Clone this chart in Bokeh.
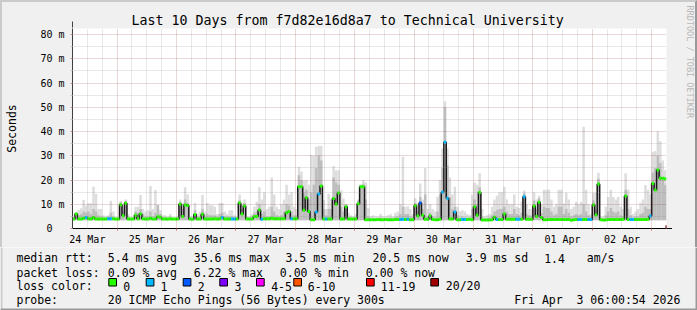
import math
from bokeh.plotting import figure
from bokeh.layouts import column
from bokeh.models import (FixedTicker, Grid, Arrow, NormalHead, ColumnDataSource, Title)
from bokeh.core.properties import value
from bokeh.embed import file_html
from bokeh.resources import INLINE

# ---------------- data (1 value per hour, starting 24 Mar 06:00) ----------------
hours = list(range(240))

median_ms = [
    3.9, 6.0, 3.9, 3.9, 4.2, 4.5, 4.0, 3.9, 4.5, 3.9, 3.9, 3.9, 3.9, 3.9, 4.0, 4.0, 4.0, 3.9, 3.9, 9.8, 5.3, 10.4, 3.9, 3.9,
    3.9, 5.5, 4.0, 6.0, 4.0, 3.9, 3.9, 4.2, 3.9, 3.9, 4.8, 4.6, 3.9, 3.9, 3.9, 4.0, 3.9, 3.9, 3.9, 10.0, 5.0, 9.7, 9.5, 3.9,
    3.8, 5.8, 3.9, 3.9, 5.9, 3.9, 3.9, 3.9, 3.9, 4.0, 3.9, 4.0, 4.5, 3.9, 3.9, 3.9, 3.9, 3.9, 3.9, 10.5, 6.0, 9.3, 3.9, 3.9,
    3.9, 5.0, 5.0, 7.6, 3.8, 4.0, 4.0, 4.0, 4.2, 4.0, 4.0, 4.0, 4.0, 4.0, 6.5, 7.0, 4.0, 4.0, 4.0, 17.2, 17.2, 7.5, 12.7, 7.0,
    3.6, 3.6, 6.8, 14.2, 17.5, 3.9, 3.9, 3.9, 3.9, 12.4, 10.0, 14.6, 3.9, 3.9, 9.0, 3.9, 3.9, 3.9, 3.9, 10.2, 17.2, 17.2, 3.6, 3.6,
    3.6, 3.6, 3.6, 3.7, 3.6, 3.6, 3.7, 3.6, 3.6, 3.6, 3.7, 3.7, 3.7, 3.8, 3.7, 3.8, 3.6, 3.6, 9.4, 5.2, 10.5, 5.5, 3.8, 3.8,
    5.2, 3.7, 3.6, 3.6, 3.8, 14.9, 35.6, 12.5, 3.9, 3.9, 6.8, 3.6, 3.6, 3.7, 3.7, 3.7, 3.8, 3.6, 9.0, 5.5, 14.8, 3.5, 3.5, 3.5,
    3.5, 3.6, 4.6, 3.7, 3.7, 3.7, 6.0, 3.8, 3.8, 3.8, 3.8, 3.8, 3.8, 3.8, 13.1, 3.8, 3.8, 3.8, 9.3, 5.0, 10.8, 4.5, 3.6, 3.6,
    3.7, 3.7, 3.7, 3.7, 3.7, 3.7, 3.7, 3.7, 3.7, 3.4, 3.6, 3.7, 3.7, 3.7, 3.7, 3.7, 3.7, 3.7, 9.7, 5.6, 18.3, 3.6, 3.5, 3.5,
    3.7, 3.7, 3.7, 3.7, 3.7, 3.7, 3.8, 13.4, 3.7, 3.7, 3.7, 3.7, 3.7, 3.7, 3.7, 3.7, 3.8, 5.2, 18.6, 15.9, 24.1, 20.7, 20.7, 20.5,
]

smoke_mid_ms = [
    4.5, 6.5, 5.5, 6.0, 7.0, 6.5, 7.0, 6.0, 8.0, 7.0, 5.5, 5.0, 4.5, 4.5, 5.0, 6.5, 5.0, 4.3, 4.3, 10.8, 7.5, 11.2, 5.0, 4.3,
    4.3, 7.0, 6.5, 8.0, 6.0, 5.0, 5.0, 7.0, 5.0, 6.5, 9.7, 6.0, 4.5, 4.5, 4.3, 4.8, 4.3, 4.3, 4.5, 11.0, 8.0, 12.0, 10.5, 4.5,
    4.3, 7.5, 5.0, 5.0, 8.0, 5.0, 6.0, 5.5, 5.5, 5.5, 5.0, 6.0, 6.5, 5.0, 5.0, 5.0, 5.0, 4.5, 4.5, 11.5, 8.0, 10.5, 4.5, 4.5,
    4.5, 6.5, 7.0, 10.0, 6.0, 7.0, 5.0, 5.0, 9.0, 7.0, 5.5, 5.0, 5.5, 7.0, 10.0, 9.5, 7.0, 5.5, 5.5, 22.0, 20.0, 15.0, 16.0, 12.0,
    15.0, 18.0, 25.0, 30.0, 28.0, 8.0, 5.5, 8.0, 8.0, 21.0, 19.0, 18.0, 9.0, 7.0, 10.0, 5.0, 4.5, 4.3, 4.5, 11.5, 18.0, 18.5, 12.0, 5.0,
    4.2, 4.3, 4.2, 4.2, 4.5, 4.2, 4.2, 4.3, 4.5, 4.2, 4.8, 5.0, 6.0, 9.0, 6.0, 6.0, 5.0, 4.5, 10.5, 7.0, 13.0, 8.0, 14.0, 5.0,
    6.5, 5.0, 4.5, 7.0, 14.0, 25.0, 50.0, 26.0, 13.0, 8.0, 9.0, 5.5, 4.5, 5.0, 4.5, 4.5, 4.3, 8.0, 12.0, 10.0, 17.0, 5.0, 4.2, 4.2,
    4.5, 5.5, 7.0, 7.5, 8.0, 8.0, 9.0, 7.0, 6.0, 6.0, 8.0, 6.0, 5.5, 6.5, 14.5, 6.0, 5.5, 5.5, 11.5, 8.0, 12.5, 6.5, 9.0, 8.5,
    8.5, 7.0, 5.5, 6.0, 9.0, 9.0, 6.0, 8.0, 6.5, 5.0, 5.5, 6.0, 5.5, 6.0, 10.0, 7.0, 5.5, 4.5, 11.5, 8.0, 20.5, 4.3, 4.2, 5.5,
    7.0, 8.5, 7.0, 6.5, 7.0, 5.5, 5.0, 16.0, 8.0, 5.5, 4.5, 5.0, 5.0, 6.0, 6.5, 9.0, 8.0, 8.0, 23.0, 25.0, 30.0, 27.0, 21.0, 18.0,
]

smoke_max_ms = [
    5.0, 6.8, 7.6, 8.3, 11.8, 9.5, 10.4, 10.4, 17.2, 14.3, 8.0, 8.0, 5.5, 5.0, 5.5, 11.4, 7.0, 4.5, 4.5, 11.3, 9.0, 12.0, 6.0, 4.5,
    4.5, 8.9, 9.0, 13.8, 8.0, 7.0, 7.5, 17.5, 8.0, 15.9, 9.0, 7.5, 5.5, 5.5, 5.0, 6.0, 4.5, 4.5, 5.0, 12.0, 10.5, 17.0, 14.0, 5.0,
    5.0, 10.5, 6.0, 7.0, 13.8, 7.0, 10.5, 9.6, 9.6, 9.0, 6.0, 10.5, 10.5, 7.0, 6.0, 7.5, 7.5, 5.5, 5.0, 14.0, 10.0, 12.0, 5.0, 5.0,
    6.0, 9.0, 11.0, 17.0, 12.0, 15.0, 8.0, 9.0, 21.0, 14.0, 9.0, 8.0, 10.0, 12.0, 18.0, 14.0, 15.0, 9.0, 8.0, 25.5, 23.5, 19.7, 20.0, 18.0,
    30.3, 30.0, 33.7, 34.0, 34.0, 11.8, 8.0, 14.2, 12.0, 25.8, 24.0, 24.0, 15.8, 12.4, 10.0, 6.5, 5.5, 5.0, 6.0, 12.0, 18.0, 20.0, 19.0, 8.4,
    5.0, 5.5, 5.0, 5.0, 6.0, 5.0, 5.0, 5.5, 6.0, 5.0, 6.5, 7.0, 10.0, 29.6, 9.0, 9.2, 8.0, 6.0, 12.5, 10.0, 18.6, 12.0, 25.0, 8.0,
    10.0, 8.0, 7.0, 13.0, 20.0, 33.0, 52.5, 33.0, 21.0, 14.0, 17.2, 9.0, 7.0, 7.5, 7.0, 6.0, 5.5, 14.0, 19.0, 18.0, 22.8, 8.0, 5.0, 5.5,
    6.0, 9.0, 12.0, 13.5, 15.0, 15.0, 17.2, 12.0, 10.0, 10.0, 14.0, 9.0, 8.5, 11.0, 15.7, 10.0, 8.0, 8.0, 15.0, 12.0, 13.5, 10.0, 16.0, 16.0,
    16.0, 12.0, 9.0, 10.0, 16.0, 16.0, 10.3, 14.7, 12.0, 8.0, 9.0, 11.0, 10.0, 11.0, 42.0, 16.0, 10.0, 6.0, 14.7, 15.0, 23.0, 5.0, 5.0, 9.0,
    13.0, 16.0, 13.0, 12.0, 13.0, 9.0, 8.0, 22.8, 16.0, 9.0, 6.0, 7.0, 8.0, 10.6, 12.0, 17.9, 16.0, 14.0, 31.4, 32.0, 40.0, 36.0, 28.0, 24.0,
]

# lost pings per hour (of 20)
loss_count = [
    0, 0, 0, 0, 0, 1, 0, 0, 0, 0, 0, 0, 0, 0, 1, 1, 0, 0, 0, 0, 0, 0, 0, 0,
    0, 0, 0, 0, 0, 0, 0, 0, 0, 0, 0, 0, 0, 0, 0, 0, 0, 0, 0, 0, 0, 0, 0, 0,
    0, 0, 0, 0, 0, 0, 0, 0, 0, 0, 0, 0, 1, 0, 0, 0, 1, 1, 0, 0, 0, 0, 0, 0,
    0, 0, 0, 0, 1, 0, 0, 0, 0, 0, 0, 0, 0, 0, 0, 0, 1, 0, 0, 0, 0, 0, 0, 0,
    0, 0, 1, 1, 0, 0, 1, 0, 0, 0, 0, 0, 0, 0, 0, 0, 0, 0, 0, 0, 0, 0, 0, 0,
    0, 0, 0, 0, 0, 0, 0, 0, 0, 0, 0, 0, 1, 1, 0, 1, 0, 0, 0, 0, 2, 0, 0, 0,
    0, 0, 0, 0, 0, 1, 1, 1, 0, 0, 1, 0, 0, 1, 1, 0, 0, 0, 0, 0, 0, 0, 0, 0,
    0, 0, 0, 1, 0, 0, 0, 0, 0, 0, 0, 1, 1, 0, 1, 0, 0, 0, 0, 0, 0, 0, 0, 0,
    0, 0, 0, 0, 0, 0, 0, 0, 0, 0, 0, 0, 1, 1, 0, 0, 1, 1, 0, 0, 0, 0, 0, 0,
    0, 0, 0, 0, 0, 0, 0, 0, 0, 1, 1, 0, 0, 0, 0, 0, 0, 1, 0, 0, 0, 0, 0, 0,
]
smoke_floor_ms = 3.4

day_labels = ["24 Mar", "25 Mar", "26 Mar", "27 Mar", "28 Mar",
              "29 Mar", "30 Mar", "31 Mar", "01 Apr", "02 Apr"]
label_hours = [6, 30, 54, 78, 102, 126, 150, 174, 198, 222]
midnight_hours = [18, 42, 66, 90, 114, 138, 162, 186, 210, 234]
six_hour_marks = [6, 12, 24, 30, 36, 48, 54, 60, 72, 78, 84, 96, 102, 108, 120, 126, 132,
                  144, 150, 156, 168, 174, 180, 192, 198, 204, 216, 222, 228]
y_ticks = [0, 10, 20, 30, 40, 50, 60, 70, 80]
y_tick_labels = ["0\u00a0\u00a0", "10 m", "20 m", "30 m", "40 m", "50 m", "60 m", "70 m", "80 m"]
y_grid_major = [10, 20, 30, 40, 50, 60, 70, 80]
y_grid_minor = [5, 15, 25, 35, 45, 55, 65, 75]

loss_legend = ["0", "1", "2", "3", "4-5", "6-10", "11-19", "20/20"]
loss_colors = ["#26ff00", "#00b8ff", "#0059ff", "#7e00ff", "#ff00ff", "#ff5500", "#ff0000", "#a10000"]

title_text = "Last 10 Days from f7d82e16d8a7 to Technical University"
watermark_text = "RRDTOOL / TOBI OETIKER"

legend_rows = [
    # (text, page x, page baseline y)
    ("median rtt:", 16, 257.5), ("5.4 ms avg", 107.3, 257.5), ("35.6 ms max", 193.3, 257.5),
    ("3.5 ms min", 285, 257.5), ("20.5 ms now", 372, 257.5), ("3.9 ms sd", 465.3, 257.5),
    ("1.4", 543.7, 257.5), ("am/s", 586.3, 257.5),
    ("packet loss:", 16, 272), ("0.09 % avg", 107.3, 272), ("6.22 % max", 193.3, 272),
    ("0.00 % min", 279.3, 272), ("0.00 % now", 365.3, 272),
    ("loss color:", 16, 285.5),
    ("probe:", 16, 299.5), ("20 ICMP Echo Pings (56 Bytes) every 300s", 107.3, 299.5),
    ("Fri Apr\u00a0\u00a03 06:00:54 2026", 513.7, 299.5),
]
swatch_x = [108.3, 145.7, 182.7, 219.3, 256.0, 293.3, 366.0, 430.3]
swatch_label_x = [122.7, 160.0, 197.3, 234.0, 270.7, 307.3, 380.3, 445.3]

assert len(median_ms) == len(smoke_mid_ms) == len(smoke_max_ms) == len(loss_count) == 240

FONT = "DejaVu Sans Mono"
BG = "#f0f0f0"
SHADE_A, SHADE_B = "#cbcbcb", "#999999"
PAD = 2                              # width of the shaded image frame
W, H = 697, 310
FL, FT, FW, FH = 68, 28, 600, 200    # plot frame in page pixels
SPLIT = 247                          # page y where the legend strip starts
MAIN_H = SPLIT - PAD                 # main figure inside the css frame: page y 2 .. 247

# ---------------- main chart ----------------
p = figure(width=W - 2 * PAD, height=MAIN_H, x_range=(0, 240), y_range=(0, FH / 2.425),
           output_backend="svg", toolbar_location=None, tools="",
           min_border_left=FL - PAD, min_border_right=W - PAD - FL - FW,
           min_border_top=FT - PAD, min_border_bottom=MAIN_H - (FT - PAD) - FH,
           border_fill_color=BG, background_fill_color="#ffffff",
           outline_line_color=None)
for g in p.grid:
    g.visible = False

p.title.text = title_text
p.title.align = "left"
p.title.offset = 59
p.title.text_font = FONT
p.title.text_font_size = "13.3px"
p.title.text_font_style = "normal"
p.title.text_color = "#000000"
p.title.standoff = 1

src = ColumnDataSource(dict(
    left=hours,
    right=[h + 1 for h in hours],
    med=median_ms,
    mid=smoke_mid_ms,
    top=smoke_max_ms,
    color=[loss_colors[c] for c in loss_count],
))

p.quad(left="left", right="right", bottom=smoke_floor_ms, top="top", source=src,
       fill_color="#dddddd", line_color=None)
p.quad(left="left", right="right", bottom=smoke_floor_ms, top="mid", source=src,
       fill_color="#bdbdbd", line_color=None)
p.step(x="left", y="med", mode="after", source=src, line_color="#151515", line_width=1.5)
p.segment(x0="left", x1="right", y0="med", y1="med", source=src,
          line_color="color", line_width=3, line_cap="butt")

p.add_layout(Grid(dimension=0, ticker=FixedTicker(ticks=midnight_hours, minor_ticks=six_hour_marks),
                  grid_line_color="#821E1E", grid_line_alpha=0.35, grid_line_dash="1 1",
                  minor_grid_line_color="#8C8C8C", minor_grid_line_alpha=0.4,
                  minor_grid_line_dash="1 1", level="annotation"))
p.add_layout(Grid(dimension=1, ticker=FixedTicker(ticks=y_grid_major, minor_ticks=y_grid_minor),
                  grid_line_color="#821E1E", grid_line_alpha=0.35, grid_line_dash="1 1",
                  minor_grid_line_color="#8C8C8C", minor_grid_line_alpha=0.4,
                  minor_grid_line_dash="1 1", level="annotation"))

xa = p.xaxis[0]
xa.ticker = FixedTicker(ticks=label_hours, minor_ticks=midnight_hours)
xa.major_label_overrides = {h: t for h, t in zip(label_hours, day_labels)}
xa.major_tick_line_color = None
xa.major_tick_out = 0
xa.major_tick_in = 0
xa.minor_tick_line_color = "#c07070"
xa.minor_tick_out = 2
xa.minor_tick_in = 0
xa.axis_line_color = "#000000"
xa.major_label_text_font = FONT
xa.major_label_text_font_size = "10px"
xa.major_label_text_color = "#000000"
xa.major_label_standoff = 3

ya = p.yaxis[0]
ya.ticker = FixedTicker(ticks=y_ticks, minor_ticks=y_grid_minor)
ya.major_label_overrides = {v: t for v, t in zip(y_ticks, y_tick_labels)}
ya.major_tick_line_color = "#c09090"
ya.major_tick_out = 2
ya.major_tick_in = 0
ya.minor_tick_line_color = "#c8c8c8"
ya.minor_tick_out = 2
ya.minor_tick_in = 0
ya.axis_line_color = "#404040"
ya.major_label_text_font = FONT
ya.major_label_text_font_size = "10px"
ya.major_label_text_color = "#000000"
ya.major_label_standoff = 6
ya.axis_label = "Seconds"
ya.axis_label_text_font = FONT
ya.axis_label_text_font_size = "11.5px"
ya.axis_label_text_font_style = "normal"
ya.axis_label_text_color = "#000000"
ya.axis_label_standoff = 18

# watermark on the right (a spacer title pushes it outward)
p.add_layout(Title(text="\u00a0", text_font_size="4px", standoff=10), "right")
p.add_layout(Title(text=watermark_text, align="left", offset=5 - FT, vertical_align="middle",
                   standoff=0, text_font=FONT, text_font_size="8.5px",
                   text_font_style="normal", text_color="#b8b8b8"), "right")

# axis arrows
p.add_layout(Arrow(end=NormalHead(size=6, fill_color="#7f1f1f", line_color="#7f1f1f"),
                   x_start=240, y_start=0, x_end=242.2, y_end=0,
                   line_color="#000000", line_width=1))
p.add_layout(Arrow(end=NormalHead(size=6, fill_color="#7f1f1f", line_color="#7f1f1f"),
                   x_start=0, y_start=FH / 2.425, x_end=0, y_end=(FH + FT - 21) / 2.425,
                   line_color="#404040", line_width=1))

main = column(p, styles={"border-top": f"2px solid {SHADE_A}",
                         "border-left": f"2px solid {SHADE_A}",
                         "border-right": f"2px solid {SHADE_B}",
                         "background-color": BG})

# ---------------- legend strip below (coordinates = page pixels) ----------------
leg = figure(width=W, height=H - SPLIT, x_range=(0, W), y_range=(H, SPLIT),
             output_backend="svg", toolbar_location=None, tools="",
             min_border=0, x_axis_location=None, y_axis_location=None,
             border_fill_color=BG, background_fill_color=BG, outline_line_color=None)
leg.grid.visible = False
leg.text(x=[r[1] for r in legend_rows], y=[r[2] for r in legend_rows],
         text=[r[0] for r in legend_rows], text_font=value(FONT), text_font_size="11.5px",
         text_color="#000000", text_align="left", text_baseline="alphabetic")
leg.text(x=swatch_label_x, y=[285.5] * len(swatch_label_x), text=loss_legend,
         text_font=value(FONT), text_font_size="11.5px", text_color="#000000",
         text_align="left", text_baseline="alphabetic")
leg.quad(left=swatch_x, right=[x + 7.7 for x in swatch_x],
         top=[278.0] * len(swatch_x), bottom=[285.5] * len(swatch_x),
         fill_color=loss_colors, line_color="#000000", line_width=1)
# shaded frame edges of the image
leg.quad(left=[0, W - PAD, 0], right=[PAD, W, W], top=[SPLIT, SPLIT, H - PAD],
         bottom=[H, H, H], fill_color=[SHADE_A, SHADE_B, SHADE_B], line_color=None)

open("out.html", "w").write(file_html([main, leg], INLINE))
